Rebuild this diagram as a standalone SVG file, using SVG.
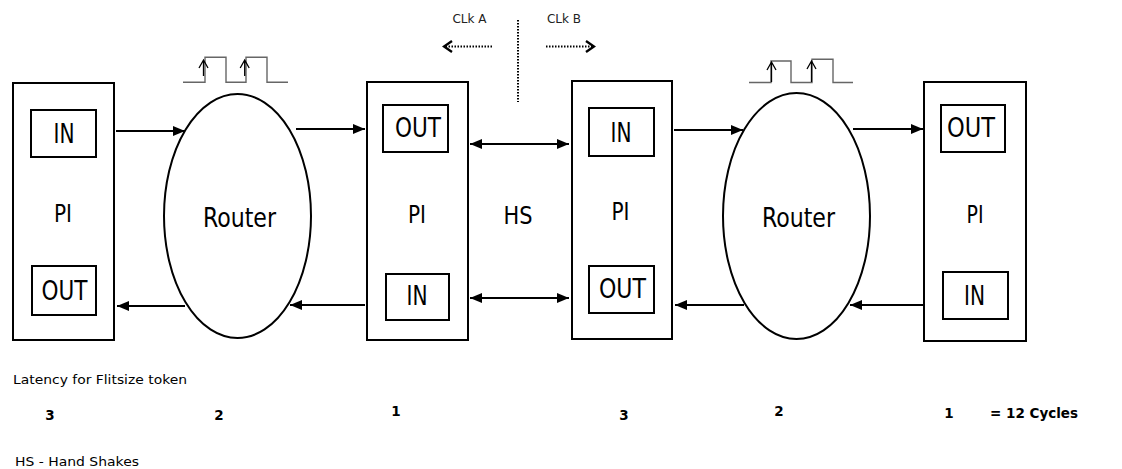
<svg xmlns="http://www.w3.org/2000/svg" width="1122" height="469" viewBox="0 0 1122 469">
<defs>
<marker id="ah" markerUnits="userSpaceOnUse" markerWidth="13" markerHeight="11" refX="12" refY="5.5" orient="auto-start-reverse">
<path d="M0,0.5 L12,5.5 L0,10.5 z" fill="#000"/>
</marker>
<marker id="chev" markerUnits="userSpaceOnUse" markerWidth="12" markerHeight="14" refX="10" refY="7" orient="auto">
<path d="M2,1.5 L10,7 L2,12.5" fill="none" stroke="#000" stroke-width="2.4"/>
</marker>
</defs>
<style>
.box{fill:#fff;stroke:#000;stroke-width:2}
.ell{fill:#fff;stroke:#000;stroke-width:2}
.lbl{font-family:"DejaVu Sans Condensed","DejaVu Sans",sans-serif;font-size:27px;fill:#000;text-anchor:middle}
.pi{font-size:24px}
.small{font-family:"DejaVu Sans","Liberation Sans",sans-serif;font-size:12px;fill:#222;text-anchor:middle}
.note{font-family:"DejaVu Sans","Liberation Sans",sans-serif;font-size:13px;fill:#000}
.num{font-family:"DejaVu Sans","Liberation Sans",sans-serif;font-size:13.5px;font-weight:bold;fill:#000;text-anchor:middle}
.con{fill:none;stroke:#000;stroke-width:2}
.clk{fill:none;stroke:#666;stroke-width:1.4}
.dot{fill:none;stroke:#000;stroke-width:2;stroke-dasharray:1.5 1.5}
</style>

<g id="pi1">
<rect class="box" x="13" y="83" width="101" height="257"/>
<rect class="box" x="31" y="110" width="65" height="47"/>
<text class="lbl" x="64" y="143" textLength="21" lengthAdjust="spacingAndGlyphs">IN</text>
<text class="lbl pi" x="63" y="222" textLength="18" lengthAdjust="spacingAndGlyphs">PI</text>
<rect class="box" x="32" y="266" width="64" height="49"/>
<text class="lbl" x="64.5" y="300" textLength="46" lengthAdjust="spacingAndGlyphs">OUT</text>
</g>

<g id="router1">
<ellipse class="ell" cx="237.5" cy="216" rx="73.5" ry="122"/>
<text class="lbl" x="239.5" y="227" textLength="73" lengthAdjust="spacingAndGlyphs">Router</text>
</g>

<g id="pi2">
<rect class="box" x="367" y="82" width="101" height="258"/>
<rect class="box" x="383" y="105" width="65" height="47"/>
<text class="lbl" x="418" y="137" textLength="46" lengthAdjust="spacingAndGlyphs">OUT</text>
<text class="lbl pi" x="417" y="223" textLength="18" lengthAdjust="spacingAndGlyphs">PI</text>
<rect class="box" x="386" y="274" width="63" height="46"/>
<text class="lbl" x="417" y="305" textLength="21" lengthAdjust="spacingAndGlyphs">IN</text>
</g>

<g id="hs">
<text class="lbl pi" x="518" y="224" textLength="29" lengthAdjust="spacingAndGlyphs">HS</text>
</g>

<g id="pi3">
<rect class="box" x="572" y="81" width="100" height="258"/>
<rect class="box" x="589" y="108" width="65" height="48"/>
<text class="lbl" x="621" y="142" textLength="21" lengthAdjust="spacingAndGlyphs">IN</text>
<text class="lbl pi" x="620.5" y="220" textLength="18" lengthAdjust="spacingAndGlyphs">PI</text>
<rect class="box" x="589" y="266" width="65" height="47"/>
<text class="lbl" x="622.5" y="298" textLength="47" lengthAdjust="spacingAndGlyphs">OUT</text>
</g>

<g id="router2">
<ellipse class="ell" cx="796.5" cy="216" rx="73.5" ry="123"/>
<text class="lbl" x="798.5" y="226.5" textLength="73" lengthAdjust="spacingAndGlyphs">Router</text>
</g>

<g id="pi4">
<rect class="box" x="924" y="82" width="102" height="259"/>
<rect class="box" x="941" y="105" width="64" height="47"/>
<text class="lbl" x="971" y="137" textLength="48" lengthAdjust="spacingAndGlyphs">OUT</text>
<text class="lbl pi" x="975" y="223" textLength="17" lengthAdjust="spacingAndGlyphs">PI</text>
<rect class="box" x="943" y="272" width="65" height="47"/>
<text class="lbl" x="974.5" y="305" textLength="21" lengthAdjust="spacingAndGlyphs">IN</text>
</g>

<g id="clock1">
<path class="clk" d="M183,82.3 H205 V57.3 H226 V82.3 H246 V57.3 H267 V82.3 H288"/>
<path fill="none" stroke="#000" stroke-width="1.3" d="M203.5,76 V60 M199,68 L203.5,60 L208,68"/>
<path fill="none" stroke="#000" stroke-width="1.3" d="M244.7,76 V60 M240.2,68 L244.7,60 L249.2,68"/>
</g>

<g id="clock2">
<path class="clk" d="M749,82.5 H771 V61 H791 V82.5 H812 V59.3 H833 V82.5 H853"/>
<path fill="none" stroke="#000" stroke-width="1.3" d="M771.5,82 V62 M767,70 L771.5,62 L776,70"/>
<path fill="none" stroke="#000" stroke-width="1.3" d="M811.5,82 V61 M807,69 L811.5,61 L816,69"/>
</g>

<g id="clocks">
<text class="small" x="469.5" y="23">CLk A</text>
<text class="small" x="564" y="23">CLk B</text>
</g>

<g id="connectors">
<path class="con" d="M116,131 H185" marker-end="url(#ah)"/>
<path class="con" d="M185,306 H117" marker-end="url(#ah)"/>
<path class="con" d="M296,129 H365" marker-end="url(#ah)"/>
<path class="con" d="M365,305 H290" marker-end="url(#ah)"/>
<path class="con" d="M470,144 H569" marker-start="url(#ah)" marker-end="url(#ah)"/>
<path class="con" d="M470,298 H569" marker-start="url(#ah)" marker-end="url(#ah)"/>
<path class="con" d="M674,130 H743" marker-end="url(#ah)"/>
<path class="con" d="M744,305 H675" marker-end="url(#ah)"/>
<path class="con" d="M853,129 H923" marker-end="url(#ah)"/>
<path class="con" d="M923,305 H850" marker-end="url(#ah)"/>
<path class="dot" d="M492,46.5 H444" marker-end="url(#chev)"/>
<path class="dot" d="M546,46.5 H594" marker-end="url(#chev)"/>
<path class="dot" d="M518,20 V102"/>
</g>

<g id="notes">
<text class="note" x="13" y="384" textLength="174" lengthAdjust="spacingAndGlyphs">Latency for Flitsize token</text>
<text class="num" x="50" y="420">3</text>
<text class="num" x="219" y="420">2</text>
<text class="num" x="396" y="416">1</text>
<text class="num" x="624" y="420">3</text>
<text class="num" x="779" y="416">2</text>
<text class="num" x="949" y="418">1</text>
<text class="num" x="990" y="418" style="text-anchor:start" textLength="88" lengthAdjust="spacingAndGlyphs">= 12 Cycles</text>
<text class="note" x="15" y="466" textLength="124" lengthAdjust="spacingAndGlyphs">HS - Hand Shakes</text>
</g>
</svg>
